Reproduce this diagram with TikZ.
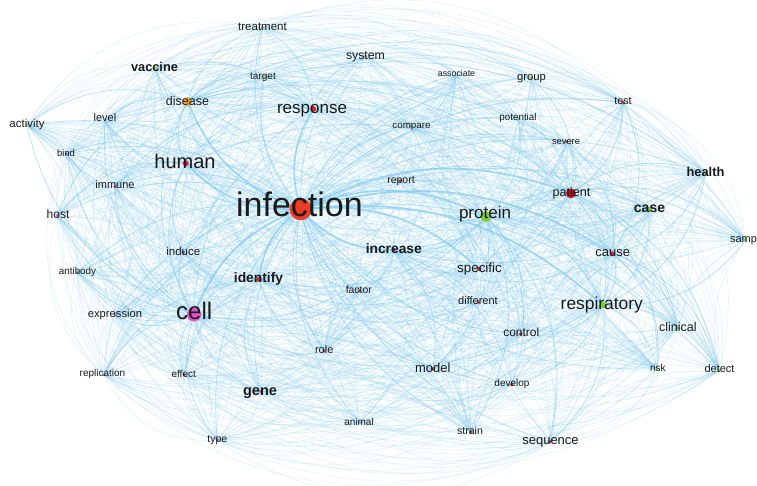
\documentclass[tikz,border=0pt]{standalone}
\usepackage{fontspec}
\setmainfont{Liberation Sans}
\pgfdeclarelayer{edges}
\pgfsetlayers{edges,main}
\definecolor{edgeblue}{HTML}{86CCEE}
\definecolor{infred}{HTML}{EE3B24}
\definecolor{nred}{HTML}{D8262A}
\definecolor{darkred}{HTML}{C4121A}
\definecolor{nmagenta}{HTML}{E34FC6}
\definecolor{ngreen}{HTML}{7FD02F}
\definecolor{ygreen}{HTML}{B8C83A}
\definecolor{norange}{HTML}{EEA232}
\definecolor{nyellow}{HTML}{D9C24A}
\definecolor{npurple}{HTML}{9A4AA8}
\definecolor{ngray}{HTML}{9A8AA0}
\definecolor{txt}{HTML}{1A1A1A}
% edge from node #1 to node #2, style #3, bend magnitude #4 (positive = bulge outward)
\newcommand\gedge[4]{%
  \pgfmathsetmacro\gcross{((\csname nX#2\endcsname)-(\csname nX#1\endcsname))/100*((240-(\csname nY#1\endcsname))/100)-((\csname nY#2\endcsname)-(\csname nY#1\endcsname))/100*((380-(\csname nX#1\endcsname))/100)}%
  \pgfmathsetmacro\gbend{ifthenelse(\gcross>0,#4,-(#4))}%
  \draw[#3] (#1.center) to[bend left=\gbend] (#2.center);%
}
\begin{document}
\begin{tikzpicture}[x=1pt,y=-1pt,
  dot/.style={circle,inner sep=0pt,draw=none},
  lbl/.style={inner sep=0pt,text=txt,anchor=base},
  light/.style={draw=edgeblue,line width=0.35pt,opacity=0.33},
  midedge/.style={draw=edgeblue,line width=0.8pt,opacity=0.55},
  strong/.style={draw=edgeblue,line width=1.7pt,opacity=0.75}]
\useasboundingbox (0,0) rectangle (757,486);
% nodes: name/x/y/colour/radius
\foreach \n/\x/\y/\c/\r in {
 treatment/262.5/27.5/norange/1.5,
 vaccine/155.5/68/ygreen/1.6,
 system/365/56.5/norange/1.8,
 target/264/76.5/norange/1.5,
 associate/456.5/74.5/nyellow/1.2,
 group/531/77.5/nyellow/1.6,
 test/623.3/102.5/nred/1.8,
 disease/187.7/101.7/norange/4.5,
 response/313.3/109/nred/3,
 activity/26.7/125/ygreen/1.6,
 level/105/120.5/nyellow/1.2,
 compare/411.5/126/nyellow/1,
 potential/518/118/nyellow/1.2,
 severe/566.7/141.7/nred/1.6,
 human/185.7/163.3/nred/3,
 bind/66.7/154/npurple/1.5,
 immune/115/186.7/nmagenta/1.8,
 report/400/181/nred/1.6,
 patient/571/193.3/darkred/5,
 health/705.7/173/ngreen/1.5,
 infection/300.7/209.3/infred/11,
 host/57.3/215.7/nmagenta/1.8,
 protein/486/216.5/ngreen/5.5,
 case/650/209/ngreen/2,
 samp/745.7/240/ngreen/1.8,
 induce/183.3/252.3/npurple/1.8,
 increase/394/250/nred/1.8,
 cause/612.7/253.3/nred/2,
 antibody/77.3/272.3/npurple/1.2,
 identify/259/279.5/nred/2.5,
 specific/479.3/269/nred/2,
 factor/359.3/290.7/nred/1.6,
 cell/194/314.5/nmagenta/7,
 expression/115/315/nmagenta/1.6,
 different/478.3/302.3/nred/1.6,
 respiratory/602.7/305/ngreen/3.5,
 control/520.7/334/nred/1.8,
 clinical/677.7/328.3/ngreen/1.8,
 role/324/351/nred/1.6,
 model/432.7/369/nred/1.8,
 replication/104/375/npurple/1.2,
 effect/184/375/nred/1.6,
 develop/511.7/384.5/nred/1.8,
 risk/657/369/ngreen/1.4,
 detect/719/370.7/ngreen/1.8,
 gene/260.7/391.7/nmagenta/1.8,
 animal/360/422.7/ngray/1.2,
 type/217.3/440/npurple/1.5,
 strain/470.7/432/nred/1.6,
 sequence/550/441.7/nred/1.8}
{
  \expandafter\xdef\csname nX\n\endcsname{\x}
  \expandafter\xdef\csname nY\n\endcsname{\y}
  \node[dot,fill=\c,minimum size={2*\r*1pt}] (\n) at (\x,\y) {};
}
% labels on top of the dots: name/fontsize/series/x/visual-centre-y
\foreach \n/\fs/\w/\tx/\ty in {
 treatment/11.5/m/262.5/26.5, vaccine/12.8/bx/154.5/66.5, system/12.3/m/365.5/55,
 target/10/m/263/75.5, associate/8.8/m/456.5/73.5, group/11.3/m/531.5/76.5,
 test/10.8/m/623/101, disease/12.5/m/187.5/100.7, response/17/m/312/107.3,
 activity/11.5/m/27/123.7, level/11/m/105/118, compare/9.8/m/411.5/125,
 potential/9.8/m/518/116.7, severe/9.3/m/566/140.7, human/20/m/185/161.5,
 bind/9.5/m/66/153.3, immune/11/m/115/185, report/10.5/m/401/179.3,
 patient/12.6/m/571.5/191.7, health/12.9/bx/705.5/171.7, infection/34/m/299.5/204.5,
 host/12/m/58/213.7, protein/17/m/485/212.7, case/14/bx/649.5/207.3,
 samp/11/m/743.5/238.3, induce/11.5/m/183.3/251, increase/13.8/bx/393.8/249,
 cause/13/m/612.8/251.7, antibody/9.8/m/77.5/271.3, identify/13.8/bx/258.5/278,
 specific/13.4/m/479.5/267.7, factor/10.4/m/358.8/289.3, cell/24/m/194.2/310.7,
 expression/11.2/m/115/313.3, different/11/m/478/301, respiratory/17.4/m/601.8/303.3,
 control/12/m/521.3/331.7, clinical/12.5/m/677.8/326.7, role/11/m/324.2/350,
 model/12.9/m/432.8/367.7, replication/10/m/102.5/373.3, effect/10/m/183.7/374,
 develop/10/m/512/383.3, risk/10/m/657.8/367.7, detect/11/m/719.5/368.7,
 gene/14.5/bx/260/390.7, animal/10/m/359/421.7, type/10.5/m/217.3/439,
 strain/10.6/m/470/431, sequence/13/m/550.5/440}
{
  \node[lbl,font=\fontseries{\w}\fontsize{\fs}{\fs}\selectfont] (\n-l) at (\tx,{\ty+0.36*\fs}) {\n};
}
\def\names{treatment,vaccine,system,target,associate,group,test,disease,response,activity,level,compare,potential,severe,human,bind,immune,report,patient,health,infection,host,protein,case,samp,induce,increase,cause,antibody,identify,specific,factor,cell,expression,different,respiratory,control,clinical,role,model,replication,effect,develop,risk,detect,gene,animal,type,strain,sequence}
\begin{pgfonlayer}{edges}
\fill[white] (0,0) rectangle (757,486);
% faint mesh between all pairs
\foreach \a [count=\i] in \names {
  \foreach \b [count=\j] in \names {
    \ifnum\j>\i\relax
      \pgfmathtruncatemacro\gk{mod(\i*\j+\i,5)}%
      \ifnum\gk=0\relax
        \gedge{\a}{\b}{light}{-24}%
      \else
        \gedge{\a}{\b}{light}{34}%
      \fi
    \fi
  }
}
% infection hub
\foreach \b in {treatment,vaccine,system,target,associate,group,test,activity,level,compare,potential,severe,bind,immune,report,health,host,case,samp,induce,antibody,factor,expression,different,control,clinical,role,model,replication,effect,develop,risk,detect,gene,animal,type,strain,sequence}
  {\gedge{infection}{\b}{midedge}{25}}
\foreach \b in {disease,response,human,cell,protein,patient,respiratory,increase,identify,cause,specific}
  {\gedge{infection}{\b}{strong}{24}}
% secondary hubs
\foreach \b in {host,immune,expression,induce,antibody,replication,effect,gene,type,identify,human,disease,protein,respiratory,increase,response,level,bind,activity,role,factor}
  {\gedge{cell}{\b}{midedge}{28}}
\foreach \b in {specific,different,control,cause,respiratory,patient,develop,sequence,strain,model,increase,report,case,clinical,detect,potential,severe,identify}
  {\gedge{protein}{\b}{midedge}{28}}
\foreach \b in {test,severe,case,health,cause,respiratory,clinical,risk,detect,samp,potential,group,disease,human}
  {\gedge{patient}{\b}{midedge}{28}}
\foreach \b in {vaccine,human,treatment,target,system,level,activity,host,response,health,case,test}
  {\gedge{disease}{\b}{midedge}{28}}
\foreach \b in {host,immune,level,bind,response,induce}
  {\gedge{human}{\b}{midedge}{28}}
\foreach \b in {cause,clinical,risk,detect,control,develop,case,health,samp,sequence}
  {\gedge{respiratory}{\b}{midedge}{28}}
\foreach \b in {system,target,treatment,immune,compare,vaccine}
  {\gedge{response}{\b}{midedge}{28}}
\foreach \b in {specific,different,control,develop,model,factor,cause,health,test}
  {\gedge{increase}{\b}{midedge}{28}}
\foreach \b in {gene,role,effect,specific,different,expression,replication}
  {\gedge{identify}{\b}{midedge}{28}}
\foreach \b in {clinical,detect,risk,health,test,severe}
  {\gedge{cause}{\b}{midedge}{28}}
\end{pgfonlayer}
\end{tikzpicture}
\end{document}
